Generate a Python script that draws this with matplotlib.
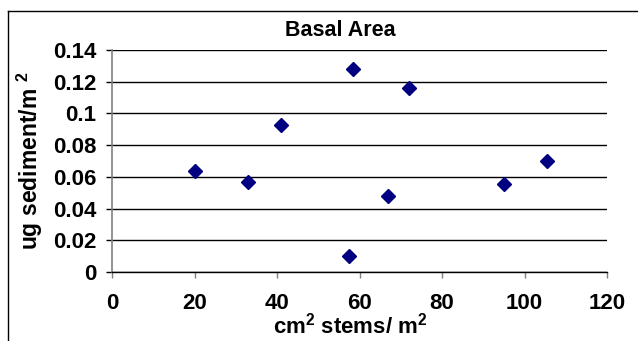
import matplotlib
matplotlib.use("Agg")
import matplotlib.pyplot as plt
from matplotlib.lines import Line2D

# data
stems = [20, 33, 41, 58.5, 72, 105.5, 67, 95, 57.5]
sediment = [0.064, 0.0565, 0.093, 0.128, 0.1158, 0.0702, 0.0478, 0.0555, 0.0098]

xticks = [0, 20, 40, 60, 80, 100, 120]
yticks = [0, 0.02, 0.04, 0.06, 0.08, 0.1, 0.12, 0.14]
ytick_labels = ["0", "0.02", "0.04", "0.06", "0.08", "0.1", "0.12", "0.14"]

plt.rcParams['font.family'] = ['Liberation Sans', 'DejaVu Sans']
plt.rcParams['font.weight'] = 'bold'
plt.rcParams['mathtext.fontset'] = 'custom'
plt.rcParams['mathtext.rm'] = 'Liberation Sans:bold'
plt.rcParams['mathtext.bf'] = 'Liberation Sans:bold'
plt.rcParams['mathtext.default'] = 'rm'

W, H = 638, 341
fig = plt.figure(figsize=(W / 100, H / 100), dpi=100)
ax = fig.add_axes([112 / W, 1 - 272 / H, (607 - 112) / W, (272 - 50) / H])

ax.plot(stems, sediment, linestyle='none', marker='D', markersize=7.5,
        color='#000080', zorder=3, clip_on=False)

ax.set_xlim(0, 120)
ax.set_ylim(0, 0.14)
ax.set_xticks(xticks)
ax.set_yticks(yticks)
ax.set_yticklabels(ytick_labels)

for y in yticks:
    ax.axhline(y, color='black', lw=1.0, zorder=1)

for s in ['top', 'right']:
    ax.spines[s].set_visible(False)
ax.spines['left'].set_color('#808080')
ax.spines['left'].set_linewidth(1.2)
ax.spines['bottom'].set_color('black')
ax.spines['bottom'].set_linewidth(1.0)

ax.tick_params(axis='y', length=4.3, width=1.0, color='black', pad=7,
               labelsize=16)
ax.tick_params(axis='x', length=4.3, width=1.0, color='#808080', pad=11,
               labelsize=16)

fig.text(340 / W, 1 - 30 / H, "Basal Area", ha='center', va='center',
         fontsize=15.5, fontweight='bold')
fig.text(350 / W, 1 - 326 / H, r"cm$^{2}$ stems/ m$^{2}$", ha='center',
         va='center', fontsize=16, fontweight='bold')
fig.text(30 / W, 1 - 161 / H, r"ug sediment/m $^{2}$", ha='center',
         va='center', rotation=90, fontsize=16.5, fontweight='bold')

# chart area frame (only top and left edges are visible)
fig.add_artist(Line2D([7.5 / W, 1.0], [1 - 10.5 / H, 1 - 10.5 / H],
                      transform=fig.transFigure, color='black', lw=1.0))
fig.add_artist(Line2D([7.5 / W, 7.5 / W], [0, 1 - 10.5 / H],
                      transform=fig.transFigure, color='black', lw=1.0))

fig.savefig("out.png", dpi=100)
